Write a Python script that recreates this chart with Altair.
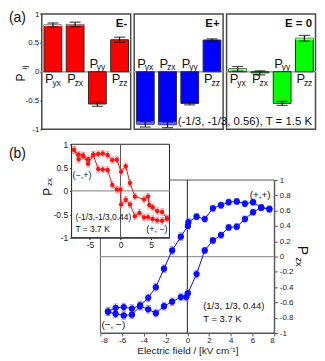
import altair as alt
import pandas as pd

FONT = "Liberation Sans"

# ---------------- (a) bar panels ----------------
components = ["yx", "zx", "yy", "zz"]
panel_names = ["E-", "E+", "E = 0"]
panel_colors = ["#ff0000", "#0000ff", "#00ff00"]
panel_light = ["#ffd0d0", "#5c5cff", "#7dff7d"]
p_eminus = [0.81, 0.82, -0.56, 0.555]
err_eminus = [0.035, 0.04, 0.04, 0.045]
hl_eminus = [0.02, 0.015, 0.0, 0.0]
side_eminus = ["below", "below", "above", "below"]
p_eplus = [-0.91, -0.92, -0.55, 0.55]
err_eplus = [0.05, 0.05, 0.025, 0.02]
hl_eplus = [0.05, 0.05, 0.0, 0.0]
side_eplus = ["above", "above", "above", "below"]
p_ezero = [0.05, -0.02, -0.55, 0.58]
err_ezero = [0.04, 0.035, 0.035, 0.05]
hl_ezero = [0.04, 0.0, 0.0, 0.03]
side_ezero = ["below", "below", "above", "below"]
a_ticks = [-1, -0.5, 0, 0.5, 1]
a_note = "(-1/3, -1/3, 0.56), T = 1.5 K"

# ---------------- (b) main loop, (1/3, 1/3, 0.44) ----------------
E_down = [7.55, 6.8, 6.05, 5.3, 4.55, 3.8, 3.1, 2.35, 1.6, 0.85, 0.1, 0.05,
          -0.6, -1.4, -2.15, -2.9, -3.6, -4.35, -5.1, -5.85, -6.6, -7.3]
P_down = [0.62, 0.64, 0.71, 0.69, 0.72, 0.71, 0.67, 0.63, 0.49, 0.52, 0.45, 0.40,
          0.26, 0.08, -0.16, -0.40, -0.54, -0.64, -0.68, -0.66, -0.67, -0.72]
err_down = [0.04, 0.04, 0.04, 0.04, 0.04, 0.04, 0.04, 0.04, 0.04, 0.04, 0.05, 0.05,
            0.05, 0.05, 0.05, 0.05, 0.05, 0.05, 0.05, 0.05, 0.05, 0.05]
E_up = [-7.3, -6.6, -5.85, -5.1, -4.35, -3.6, -2.9, -2.15, -1.4, -0.6, -0.1, 0.05,
        0.85, 1.6, 2.35, 3.1, 3.8, 4.55, 5.3, 6.05, 6.8, 7.55]
P_up = [-0.72, -0.75, -0.77, -0.76, -0.65, -0.69, -0.74, -0.65, -0.59, -0.53, -0.53, -0.48,
        -0.23, 0.08, 0.21, 0.28, 0.38, 0.39, 0.49, 0.58, 0.64, 0.62]
err_up = [0.05, 0.05, 0.05, 0.05, 0.05, 0.05, 0.05, 0.05, 0.05, 0.05, 0.05, 0.05,
          0.05, 0.04, 0.04, 0.04, 0.04, 0.04, 0.04, 0.04, 0.04, 0.04]
b_xticks = [-8, -6, -4, -2, 0, 2, 4, 6, 8]
b_yticks = [-1, -0.8, -0.6, -0.4, -0.2, 0, 0.2, 0.4, 0.6, 0.8, 1]

# ---------------- (b) inset loop, (-1/3, -1/3, 0.44) ----------------
Ei_1 = [-7.6, -6.85, -6.1, -5.3, -4.45, -3.65, -2.9, -2.1, -1.35, -0.6, 0.1, 0.85,
        1.55, 2.35, 3.85, 4.5, 4.7, 5.25, 6.0, 6.8, 7.6]
Pi_1 = [0.88, 0.78, 0.76, 0.68, 0.78, 0.79, 0.80, 0.77, 0.66, 0.67, 0.41, 0.53,
        0.17, -0.12, -0.18, -0.12, -0.30, -0.35, -0.43, -0.45, -0.59]
erri_1 = [0.07, 0.07, 0.07, 0.07, 0.07, 0.07, 0.07, 0.07, 0.07, 0.07, 0.07, 0.07,
          0.07, 0.07, 0.07, 0.07, 0.07, 0.07, 0.07, 0.07, 0.07]
Ei_2 = [7.6, 6.8, 6.0, 5.25, 4.5, 3.85, 3.1, 2.35, 1.55, 0.85, 0.1, 0.0,
        -0.6, -1.35, -2.1, -2.9, -3.65, -4.45, -5.3, -6.1, -6.85, -7.6]
Pi_2 = [-0.59, -0.64, -0.63, -0.60, -0.56, -0.57, -0.47, -0.54, -0.29, -0.19, -0.29, 0.03,
        0.03, 0.13, 0.45, 0.46, 0.47, 0.77, 0.58, 0.75, 0.68, 0.88]
erri_2 = [0.07, 0.07, 0.07, 0.07, 0.07, 0.07, 0.07, 0.07, 0.07, 0.07, 0.07, 0.07,
          0.07, 0.07, 0.07, 0.07, 0.07, 0.07, 0.07, 0.07, 0.07, 0.07]
i_xticks = [-5, 0, 5]
i_yticks = [-1, -0.5, 0, 0.5, 1]

# ======================================================================
PW, PH = 89.5, 116
xband = alt.Scale(domain=components, paddingInner=0.2, paddingOuter=0.1)
ya = alt.Scale(domain=[-1, 1], nice=False, zero=False)
yaxis_a = alt.Axis(values=a_ticks, title=None, labelExpr="toString(datum.value)",
                   labelFontSize=8, labelPadding=1, tickSize=2, domain=False,
                   grid=False, labelColor="#222", tickColor="#444")


def bar_panel(vals, errs, hls, sides, name, color, light, first=False, note=""):
    df = pd.DataFrame({"c": components, "v": vals, "e": errs, "h": hls, "side": sides})
    df["lo"] = df["v"] - df["e"]
    df["hi"] = df["v"] + df["e"]
    df["z"] = 0.0
    df["hv"] = [v - h if v >= 0 else v + h for v, h in zip(vals, hls)]
    yax = yaxis_a if first else None

    def X():
        return alt.X("c:N", scale=xband, axis=None)

    def Y(f):
        return alt.Y(f + ":Q", scale=ya, axis=yax)

    base = alt.Chart(df)
    layers = [
        base.mark_rule(color="#a0a0a0", strokeWidth=1).encode(y=Y("z")),
        base.mark_bar(color=color, stroke="#2a2a2a", strokeWidth=1).encode(
            x=X(), y=Y("v"), y2="z"),
        base.transform_filter("datum.h > 0").mark_bar(color=light, strokeWidth=0).encode(
            x=X(), y=Y("v"), y2="hv"),
        base.mark_rule(color="#111111", strokeWidth=1.2).encode(
            x=X(), y=Y("lo"), y2="hi"),
        base.mark_tick(color="#111111", thickness=1.3, size=11, orient="horizontal").encode(
            x=X(), y=Y("lo")),
        base.mark_tick(color="#111111", thickness=1.3, size=11, orient="horizontal").encode(
            x=X(), y=Y("hi")),
    ]
    for side, dyp, dys in [("below", 11.5, 14.5), ("above", -3.8, -1.8)]:
        part = base.transform_filter(f"datum.side == '{side}'")
        layers.append(part.mark_text(text="P", align="left", baseline="alphabetic",
                                     dx=-8, dy=dyp, fontSize=13, color="#111").encode(
            x=X(), y=Y("z")))
        layers.append(part.mark_text(align="left", baseline="alphabetic", dx=-0.5,
                                     dy=dys, fontSize=8.5, color="#111").encode(
            x=X(), y=Y("z"), text="c:N"))
    ndf = pd.DataFrame({"c": ["zz"], "y": [0.77], "t": [name]})
    layers.append(alt.Chart(ndf).mark_text(align="right", baseline="alphabetic", dx=7.7,
                                           fontSize=11.5, fontWeight="bold",
                                           color="#111").encode(
        x=X(), y=Y("y"), text="t:N"))
    if first:
        adf = pd.DataFrame({"c": ["yx"], "y": [0.862], "t": ["(a)"]})
        layers.append(alt.Chart(adf).mark_text(align="left", baseline="alphabetic",
                                               dx=-44.25, fontSize=14, color="#111").encode(
            x=X(), y=Y("y"), text="t:N"))
        pdf = pd.DataFrame({"c": ["yx"], "y": [-0.10], "t": ["P"]})
        layers.append(alt.Chart(pdf).mark_text(angle=270, align="center", baseline="middle",
                                               dy=-32.5, fontSize=12, color="#111").encode(
            x=X(), y=Y("y"), text="t:N"))
        sdf = pd.DataFrame({"c": ["yx"], "y": [0.072], "t": ["ij"]})
        layers.append(alt.Chart(sdf).mark_text(angle=270, align="center", baseline="middle",
                                               dy=-27.6, fontSize=8, color="#111").encode(
            x=X(), y=Y("y"), text="t:N"))
    if note:
        tdf = pd.DataFrame({"c": ["zz"], "y": [-0.92], "t": [note]})
        layers.append(alt.Chart(tdf).mark_text(align="right", baseline="alphabetic", dx=7.7,
                                               fontSize=11.5, color="#111").encode(
            x=X(), y=Y("y"), text="t:N"))
    return alt.layer(*layers).properties(
        width=PW, height=PH,
        view=alt.ViewBackground(stroke="#4a4a4a", strokeWidth=1.5))


p1 = bar_panel(p_eminus, err_eminus, hl_eminus, side_eminus, panel_names[0],
               panel_colors[0], panel_light[0], first=True)
p2 = bar_panel(p_eplus, err_eplus, hl_eplus, side_eplus, panel_names[1],
               panel_colors[1], panel_light[1])
p3 = bar_panel(p_ezero, err_ezero, hl_ezero, side_ezero, panel_names[2],
               panel_colors[2], panel_light[2], note=a_note)
top = alt.hconcat(p1, p2, p3, spacing=3, bounds="flush")

# ---------------- bottom ----------------
BW, BH = 234, 190
ms_x = alt.Scale(domain=[-8, 8], range=[59, 234], nice=False, zero=False)
ms_y = alt.Scale(domain=[-1, 1], range=[190, 36], nice=False, zero=False)
is_x = alt.Scale(domain=[-8, 8], range=[30, 128.5], nice=False, zero=False)
is_y = alt.Scale(domain=[-1, 1], range=[94, 0], nice=False, zero=False)

m_xax = alt.Axis(orient="bottom", values=b_xticks, title="Electric field / [kV cm⁻¹]",
                 titleFontSize=10, titleFontWeight="normal", titlePadding=1,
                 labelFontSize=8, labelPadding=1, tickSize=3,
                 labelExpr="toString(datum.value)", domainColor="#555", tickColor="#555",
                 labelColor="#222", titleColor="#222", grid=False)
m_yax = alt.Axis(orient="right", values=b_yticks, title=None, labelFontSize=8,
                 labelPadding=2, tickSize=3, labelExpr="toString(datum.value)",
                 domainColor="#555", tickColor="#555", labelColor="#222", grid=False)
i_xax = alt.Axis(orient="bottom", offset=-96, values=i_xticks, title=None,
                 labelFontSize=8.5, labelPadding=1, tickSize=2,
                 labelExpr="toString(datum.value)", domainColor="#222", tickColor="#222",
                 labelColor="#222", grid=False)
i_yax = alt.Axis(orient="left", offset=-30, values=i_yticks, title=None,
                 labelFontSize=8.5, labelPadding=2, tickSize=2,
                 labelExpr="toString(datum.value)", domainColor="#222", tickColor="#222",
                 labelColor="#222", grid=False)


def loop_layers(sx, sy, ax, ay, series, color, ecolor, size, capw, frame_fill,
                frame_stroke, zero_v_color, annotations, titles):
    def X(f):
        return alt.X(f + ":Q", scale=sx, axis=ax)

    def Y(f):
        return alt.Y(f + ":Q", scale=sy, axis=ay)

    frames = []
    for name, (E, P, err) in series.items():
        d = pd.DataFrame({"E": E, "P": P, "err": err})
        d["b"] = name
        d["o"] = list(range(len(E)))
        frames.append(d)
    df = pd.concat(frames, ignore_index=True)
    df["lo"] = df["P"] - df["err"]
    df["hi"] = df["P"] + df["err"]
    base = alt.Chart(df)
    fr = pd.DataFrame({"E": [-8], "E2": [8], "P": [-1], "P2": [1]})
    layers = []
    if frame_fill:
        layers.append(alt.Chart(fr).mark_rect(fill=frame_fill, stroke=frame_stroke,
                                              strokeWidth=1).encode(
            x=X("E"), x2="E2", y=Y("P"), y2="P2"))
    else:
        layers.append(alt.Chart(fr).mark_rect(fillOpacity=0, stroke=frame_stroke,
                                              strokeWidth=1).encode(
            x=X("E"), x2="E2", y=Y("P"), y2="P2"))
    layers += [
        alt.Chart(pd.DataFrame({"E": [-8], "E2": [8], "P": [0]})).mark_rule(
            color="#9a9a9a", strokeWidth=1.3).encode(x=X("E"), x2="E2", y=Y("P")),
        alt.Chart(pd.DataFrame({"E": [0], "P": [-1], "P2": [1]})).mark_rule(
            color=zero_v_color, strokeWidth=1).encode(x=X("E"), y=Y("P"), y2="P2"),
        base.mark_rule(color=ecolor, strokeWidth=1).encode(x=X("E"), y=Y("lo"), y2="hi"),
        base.mark_tick(color=ecolor, thickness=1, size=capw, orient="horizontal").encode(
            x=X("E"), y=Y("lo")),
        base.mark_tick(color=ecolor, thickness=1, size=capw, orient="horizontal").encode(
            x=X("E"), y=Y("hi")),
        base.mark_line(color=color, strokeWidth=1).encode(
            x=X("E"), y=Y("P"), detail="b:N", order="o:Q"),
        base.mark_circle(color=color, opacity=1, size=size).encode(x=X("E"), y=Y("P")),
    ]
    for (E, P, t, align, fs, dx) in annotations:
        a = pd.DataFrame({"E": [E], "P": [P], "t": [t]})
        layers.append(alt.Chart(a).mark_text(align=align, baseline="middle", fontSize=fs,
                                             dx=dx, color="#111").encode(
            x=X("E"), y=Y("P"), text="t:N"))
    for (E, P, t, angle, fs) in titles:
        a = pd.DataFrame({"E": [E], "P": [P], "t": [t]})
        layers.append(alt.Chart(a).mark_text(align="center", baseline="middle", fontSize=fs,
                                             angle=angle, color="#111").encode(
            x=X("E"), y=Y("P"), text="t:N"))
    return alt.layer(*layers)


main = loop_layers(
    ms_x, ms_y, m_xax, m_yax,
    {"down": (E_down, P_down, err_down), "up": (E_up, P_up, err_up)},
    "#0a0aff", "#7d7dff", 40, 5, "", "#555", "#222",
    [(6.7, 0.81, "(+,+)", "center", 10, 0),
     (1.46, -0.65, "(1/3, 1/3, 0.44)", "left", 9.5, 0),
     (1.46, -0.82, "T = 3.7 K", "left", 9.5, 0),
     (-7.9, -0.89, "(−, −)", "left", 10, 0)],
    [(10.56, 0.08, "P", 90, 14), (10.25, -0.07, "zx", 90, 9)],
)

inset = loop_layers(
    is_x, is_y, i_xax, i_yax,
    {"one": (Ei_1, Pi_1, erri_1), "two": (Ei_2, Pi_2, erri_2)},
    "#ff1010", "#ff7a7a", 20, 4, "white", "#222", "#555",
    [(-8, 0.34, "(−,+)", "left", 9, 1),
     (-7.37, -0.56, "(-1/3,-1/3,0.44)", "left", 8.5, 0),
     (-7.37, -0.82, "T = 3.7 K", "left", 8.5, 0),
     (7.69, -0.82, "(+, −)", "right", 9, 0),
     (-8, 0.79, "(b)", "left", 14, -63)],
    [(-11.8, -0.02, "P", 270, 12), (-11.5, 0.19, "zx", 270, 8)],
)

bottom = alt.layer(main, inset).resolve_scale(
    x="independent", y="independent").properties(width=BW, height=BH)

chart = alt.vconcat(top, bottom, spacing=5).properties(padding=0).configure(
    font=FONT).configure_view(stroke="transparent").configure_axis(
    labelFont=FONT, titleFont=FONT).configure_text(font=FONT)

chart.save("out.html", embed_options={"renderer": "svg", "actions": False})
